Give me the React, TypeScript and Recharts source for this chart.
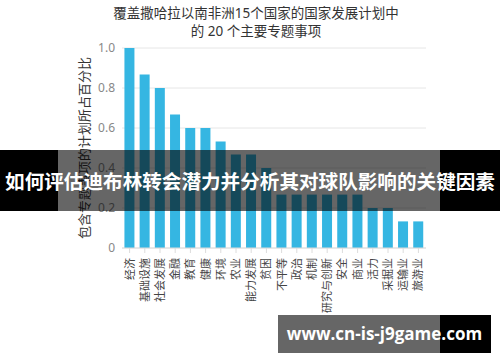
import { BarChart, Bar, XAxis, YAxis, CartesianGrid } from 'recharts';

const categories = [
  '经济', '基础设施', '社会发展', '金融', '教育', '健康', '环境', '农业', '能力发展', '贫困',
  '不平等', '政治', '机制', '研究与创新', '安全', '商业', '活力', '采掘业', '运输业', '旅游业',
];
const shares = [
  1.0, 0.867, 0.8, 0.667, 0.6, 0.6, 0.533, 0.467, 0.467, 0.4,
  0.267, 0.267, 0.267, 0.267, 0.267, 0.267, 0.2, 0.2, 0.133, 0.133,
];
const yTicks = [0, 0.2, 0.4, 0.6, 0.8, 1.0];

const titleLines = ['覆盖撒哈拉以南非洲15个国家的国家发展计划中', '的 20 个主要专题事项'];
const yLabel = '包含专题事项的计划所占百分比';
const banner = '如何评估迪布林转会潜力并分析其对球队影响的关键因素';
const watermark = 'www.cn-is-j9game.com';

const data = categories.map((name, i) => ({ name, value: shares[i] }));

const FONT = '"Noto Sans", "Noto Sans CJK SC", sans-serif';

function CategoryTick(props: any) {
  const { x, y, payload } = props;
  const ty = y + 3;
  return (
    <text
      x={x}
      y={ty}
      transform={`rotate(-90, ${x}, ${ty})`}
      textAnchor="end"
      dy="0.36em"
      fontSize={11}
      fill="#444"
      fontFamily={FONT}
    >
      {payload.value}
    </text>
  );
}

export default function App() {
  return (
    <div style={{ position: 'absolute', left: 0, top: 0, width: 500, height: 362, background: '#fff', fontFamily: FONT }}>
      <div
        style={{
          position: 'absolute',
          left: 0,
          top: 4,
          width: 512,
          textAlign: 'center',
          fontSize: 13.5,
          lineHeight: '18px',
          color: '#333',
        }}
      >
        {titleLines.map((l) => (
          <div key={l}>{l}</div>
        ))}
      </div>
      <BarChart
        width={500}
        height={362}
        data={data}
        margin={{ top: 48, right: 74, bottom: 14, left: 72 }}
        barCategoryGap="16%"
      >
        <CartesianGrid vertical={false} stroke="#e6e6e6" />
        <XAxis
          dataKey="name"
          interval={0}
          height={100}
          tick={<CategoryTick />}
          tickSize={5}
          tickMargin={2}
          stroke="#dcdcdc"
          tickLine={{ stroke: '#dcdcdc' }}
        />
        <YAxis
          width={50}
          domain={[0, 1]}
          ticks={yTicks}
          axisLine={false}
          tickLine={false}
          tickSize={0}
          tickMargin={7}
          tickFormatter={(v: number) => (v === 0 ? '0' : v.toFixed(1))}
          tick={{ fontSize: 12, fill: '#888', fontFamily: FONT }}
          label={{
            value: yLabel,
            angle: -90,
            position: 'insideLeft',
            offset: 12,
            style: { fontSize: 13, fill: '#333', fontFamily: FONT, textAnchor: 'middle' },
          }}
        />
        <Bar dataKey="value" fill="#35b6e2" isAnimationActive={false} />
      </BarChart>
      <div style={{ position: 'absolute', left: 0, top: 150, width: 58, height: 61, background: '#000' }} />
      <div style={{ position: 'absolute', left: 58, top: 150, width: 382, height: 61, background: 'rgba(0,0,0,0.6)' }} />
      <div style={{ position: 'absolute', left: 440, top: 150, width: 60, height: 61, background: '#000' }} />
      <div
        style={{
          position: 'absolute',
          left: 0,
          top: 150,
          width: 500,
          height: 61,
          lineHeight: '61px',
          textAlign: 'center',
          color: '#fff',
          fontWeight: 700,
          fontSize: 19.6,
          whiteSpace: 'nowrap',
          fontFamily: '"Noto Sans CJK SC", sans-serif',
        }}
      >
        {banner}
      </div>
      <div style={{ position: 'absolute', left: 278, top: 315, width: 162, height: 38, background: 'rgba(0,0,0,0.6)' }} />
      <div style={{ position: 'absolute', left: 440, top: 315, width: 51, height: 38, background: '#000' }} />
      <div
        style={{
          position: 'absolute',
          left: 278,
          top: 315,
          width: 213,
          height: 38,
          lineHeight: '38px',
          textAlign: 'center',
          color: '#fff',
          fontWeight: 700,
          fontSize: 17,
          whiteSpace: 'nowrap',
          fontFamily: '"Open Sans", "Noto Sans", sans-serif',
        }}
      >
        {watermark}
      </div>
    </div>
  );
}
